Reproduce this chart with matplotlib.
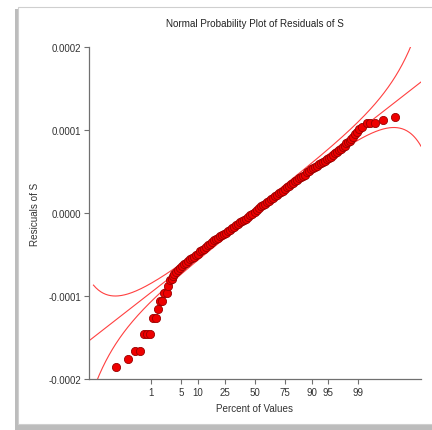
#import drawing modules
import numpy as np
import matplotlib.pyplot as plt
from matplotlib import font_manager
from matplotlib.patches import Rectangle
from statistics import NormalDist

nd = NormalDist()

#normal scores (x position) of the plotted residuals
normal_scores = [-3.12, -2.84, -2.69, -2.57, -2.48, -2.42, -2.35, -2.29, -2.21, -2.17,
                 -2.12, -2.07, -2.03, -1.97, -1.94, -1.90, -1.83, -1.76, -1.67, -1.58,
                 -1.49, -1.40, -1.31, -1.22, -1.13, -1.04, -0.95, -0.86, -0.77, -0.68,
                 -0.59, -0.50, -0.41, -0.32, -0.23, -0.14, -0.05, 0.05, 0.14, 0.23,
                 0.32, 0.41, 0.50, 0.59, 0.68, 0.77, 0.86, 0.95, 1.04, 1.13,
                 1.22, 1.31, 1.40, 1.49, 1.58, 1.67, 1.76, 1.85, 1.94, 2.03,
                 2.10, 2.17, 2.21, 2.26, 2.30, 2.35, 2.42, 2.53, 2.60, 2.71,
                 2.89, 3.16]
#residuals of S (units of 1e-4)
residuals = [-1.86, -1.76, -1.66, -1.66, -1.46, -1.46, -1.46, -1.26, -1.26, -1.16,
             -1.06, -1.06, -0.96, -0.96, -0.88, -0.81, -0.76, -0.71, -0.66, -0.61,
             -0.58, -0.54, -0.51, -0.46, -0.43, -0.39, -0.35, -0.31, -0.28, -0.25,
             -0.22, -0.18, -0.15, -0.11, -0.08, -0.05, -0.01, 0.04, 0.08, 0.11,
             0.15, 0.18, 0.22, 0.25, 0.29, 0.33, 0.36, 0.40, 0.43, 0.46,
             0.51, 0.54, 0.57, 0.60, 0.63, 0.66, 0.70, 0.74, 0.77, 0.81,
             0.86, 0.89, 0.92, 0.95, 0.98, 1.01, 1.04, 1.09, 1.09, 1.09,
             1.12, 1.16]

#more points in the dense middle band
band_scores = [-1.86, -1.80, -1.72, -1.63, -1.54, -1.45, -1.36, -1.27, -1.18, -1.09,
               -1.00, -0.91, -0.82, -0.73, -0.64, -0.55, -0.46, -0.37, -0.28, -0.19,
               -0.10, 0.00, 0.10, 0.19, 0.28, 0.37, 0.46, 0.55, 0.64, 0.73,
               0.82, 0.91, 1.00, 1.09, 1.18, 1.27, 1.36, 1.45, 1.54, 1.63,
               1.72, 1.81, 1.90, 1.99, 2.06, 2.14]
band_residuals = [-0.79, -0.74, -0.69, -0.64, -0.60, -0.56, -0.53, -0.49, -0.45, -0.41,
                  -0.37, -0.33, -0.30, -0.27, -0.24, -0.20, -0.17, -0.13, -0.10, -0.07,
                  -0.03, 0.01, 0.06, 0.10, 0.13, 0.17, 0.20, 0.24, 0.27, 0.31,
                  0.35, 0.38, 0.42, 0.45, 0.49, 0.53, 0.56, 0.59, 0.62, 0.65,
                  0.68, 0.72, 0.76, 0.79, 0.84, 0.87]

#fitted normal line and 95% confidence band settings
fit_mean = 1.5e-6
fit_sd = 4.18e-5
n_obs = 770
conf_z = 1.96

#percent ticks on the x axis and residual ticks on the y axis
pct_ticks = [1, 5, 10, 25, 50, 75, 90, 95, 99]
y_ticks = [-0.0002, -0.0001, 0.0, 0.0001, 0.0002]

#pick the regular (not narrow) Liberation Sans file
font_file = None
for f in font_manager.fontManager.ttflist:
    if f.name == 'Liberation Sans' and f.style == 'normal' and f.weight in (400, 'normal') \
            and 'Narrow' not in f.fname:
        font_file = f.fname
        break
if font_file:
    font_manager.fontManager.addfont(font_file)
    plt.rcParams['font.family'] = [font_manager.FontProperties(fname=font_file).get_name(), 'DejaVu Sans']

fig = plt.figure(figsize=(4.32, 4.31), dpi=100)

#window frame with a grey shadow
W, H = 432.0, 431.0
fig.patches.append(Rectangle((15 / W, 1 - 431 / H), 430 / W, 421 / H, transform=fig.transFigure,
                             facecolor='#bcbcbc', edgecolor='none', zorder=-10))
fig.patches.append(Rectangle((18 / W, 1 - 425 / H), 430 / W, 417 / H, transform=fig.transFigure,
                             facecolor='white', edgecolor='#cfcfcf', linewidth=0.8, zorder=-9))

ax = fig.add_axes([89 / W, 1 - 380 / H, (421 - 89) / W, (380 - 48) / H])
ax.set_facecolor('none')

x = np.array(normal_scores + band_scores)
y = np.array(residuals + band_residuals) * 1e-4
order = np.argsort(x)
x, y = x[order], y[order]

#fitted line and confidence band
xlo, xhi = -3.72, 3.74
zz = np.linspace(-3.62, xhi, 400)
p = np.array([nd.cdf(v) for v in zz])
dens = np.array([nd.pdf(v) for v in zz])
centre = fit_mean + fit_sd * zz
half = conf_z * fit_sd * np.sqrt(p * (1 - p) / n_obs) / dens
line_x = np.array([xlo, xhi])
ax.plot(line_x, fit_mean + fit_sd * line_x, color='#ff4040', lw=0.8, zorder=2)
ax.plot(zz, centre + half, color='#ff4040', lw=0.8, zorder=2)
ax.plot(zz, centre - half, color='#ff4040', lw=0.8, zorder=2)

#the residual points
ax.plot(x, y, 'o', ms=5.9, mfc='#ee0000', mec='#9a0000', mew=0.6, zorder=3)

ax.set_xlim(xlo, xhi)
ax.set_ylim(-0.0002, 0.0002)
ax.set_xticks([nd.inv_cdf(v / 100) for v in pct_ticks])
ax.set_xticklabels([str(v) for v in pct_ticks])
ax.set_yticks(y_ticks)
ax.set_yticklabels(['%.4f' % v for v in y_ticks])

for s in ['top', 'right']:
    ax.spines[s].set_visible(False)
for s in ['left', 'bottom']:
    ax.spines[s].set_color('#707070')
    ax.spines[s].set_linewidth(0.9)
ax.tick_params(axis='both', colors='#707070', labelcolor='#333333', labelsize=7,
               length=3.5, width=0.8, pad=2)

#title and axis labels
fig.text(254.5 / W, 1 - 24 / H, 'Normal Probability Plot of Residuals of S', ha='center',
         va='center', fontsize=7.1, color='#222222')
fig.text(254.5 / W, 1 - 409 / H, 'Percent of Values', ha='center', va='center',
         fontsize=7.1, color='#333333')
fig.text(34.5 / W, 1 - 214 / H, 'Resicuals of S', ha='center', va='center',
         rotation=90, fontsize=7.1, color='#333333')

plt.savefig('out.png', dpi=100)
